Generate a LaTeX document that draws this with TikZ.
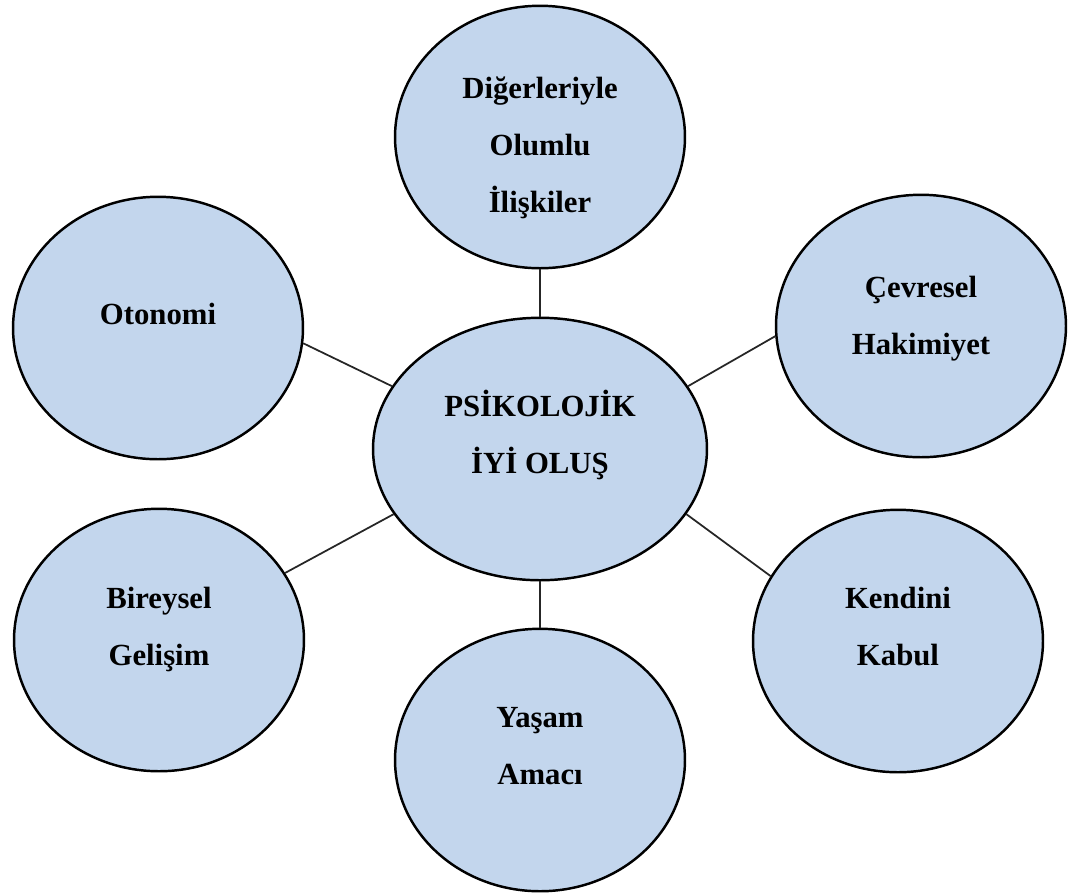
\documentclass[tikz,border=0pt]{standalone}
\usepackage{fontspec}
\setmainfont{Liberation Serif}
\usetikzlibrary{shapes.geometric}
\definecolor{bubblefill}{RGB}{195,214,237}

\begin{document}
\begin{tikzpicture}[x=0.02cm, y=-0.02cm]
    \tikzset{bubble/.style={draw, ellipse, fill=bubblefill, line width=1.4pt, minimum width=5.8cm, minimum height=5.25cm, inner sep=0pt},
             bubble text/.style={align=center, font=\fontsize{17.5}{32.4}\selectfont\bfseries, yshift=8pt},
             link/.style={draw=black!85, line width=1pt}}
    \useasboundingbox (0,0) rectangle (1074,894);
    \node[bubble, minimum width=6.68cm, label={[bubble text]center:PSİKOLOJİK\\İYİ OLUŞ}] (psi) at (540,449) {};
    \node[bubble, label={[bubble text, yshift=-14pt]center:Diğerleriyle\\Olumlu\\İlişkiler}] (diger) at (540,137) {};
    \node[bubble, label={[bubble text]center:Otonomi}] (oto) at (158,328) {};
    \node[bubble, label={[bubble text, yshift=-4pt]center:Çevresel\\Hakimiyet}] (cevre) at (921,326) {};
    \node[bubble, label={[bubble text, yshift=-2pt]center:Bireysel\\Gelişim}] (birey) at (159,640) {};
    \node[bubble, label={[bubble text]center:Kendini\\Kabul}] (kabul) at (898,641) {};
    \node[bubble, label={[bubble text]center:Yaşam\\Amacı}] (yasam) at (540,760) {};
    \draw[link] (diger.south) -- (psi.north);
    \draw[link] (oto.-6) -- (psi.157);
    \draw[link] (cevre.184) -- (psi.23);
    \draw[link] (birey.28) -- (psi.204);
    \draw[link] (kabul.153) -- (psi.-24);
    \draw[link] (psi.south) -- (yasam.north);
\end{tikzpicture}
\end{document}
